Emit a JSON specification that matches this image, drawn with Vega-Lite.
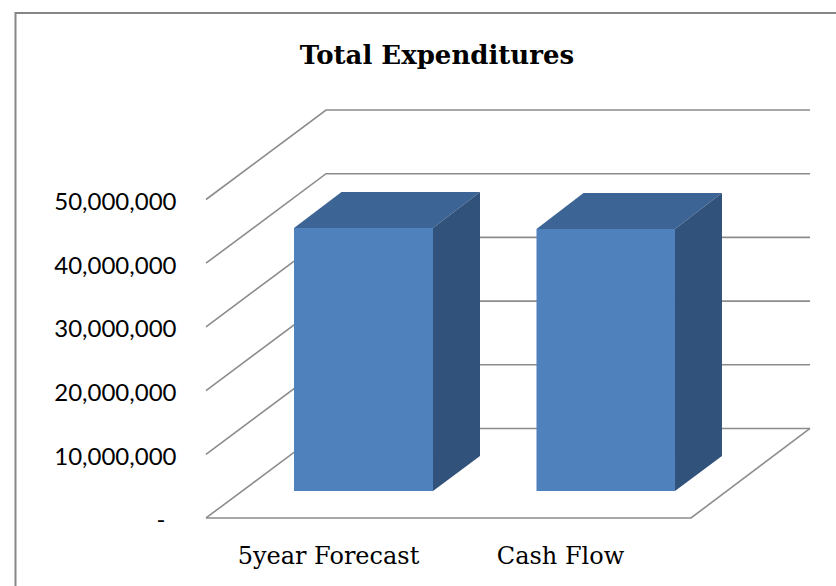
{
"$schema":"https://vega.github.io/schema/vega-lite/v6.json",
"width":836,"height":586,"autosize":"none","padding":0,"background":"white",
"title":{"text":"Total Expenditures","font":"DejaVu Serif","fontSize":26,"fontWeight":"bold","color":"#000000","anchor":"middle","dx":19,"offset":-69},
"config":{"view":{"stroke":null}},
"encoding":{
 "x":{"field":"x","type":"quantitative","scale":{"domain":[-0.8495,2.598],"nice":false,"zero":false},
  "axis":{"orient":"bottom","title":null,"grid":false,"domain":false,"ticks":false,"values":[0.503,1.46],"offset":-30,"labelPadding":0,"labelBaseline":"middle","labelLimit":400,"labelFont":"DejaVu Serif","labelFontSize":24,"labelColor":"#000000","labelExpr":"datum.value<1?'5year Forecast':'Cash Flow'"}},
 "y":{"field":"y","type":"quantitative","scale":{"domain":[-10680000,81320000],"nice":false,"zero":false},
  "axis":{"orient":"left","title":null,"grid":false,"domain":false,"ticks":false,"values":[0,10000000,20000000,30000000,40000000,50000000],"offset":-176,"labelPadding":{"condition":{"test":"datum.value==0","value":11},"value":0},"labelOffset":3,"labelFont":"Lato","labelFontSize":24,"labelColor":"#000000","labelExpr":"datum.value==0?'-':format(datum.value,',')"}}
},
"layer":[
 {"data":{"values":[
  {"series":"frame","x":-0.7856,"y":-10680000},{"series":"frame","x":-0.7856,"y":79280000},{"series":"frame","x":2.598,"y":79280000}]},
  "mark":{"type":"line","stroke":"#868686","strokeWidth":2,"clip":false},
  "encoding":{"detail":{"field":"series"}}},
 {"data":{"values":[
  {"series":"floor","x":0,"y":0},{"series":"floor","x":2,"y":0},{"series":"floor","x":2.491,"y":14050000},
  {"series":"g0","x":0,"y":0},{"series":"g0","x":0.495,"y":14050000},{"series":"g0","x":2.491,"y":14050000},
  {"series":"g10","x":0,"y":10000000},{"series":"g10","x":0.495,"y":24050000},{"series":"g10","x":2.491,"y":24050000},
  {"series":"g20","x":0,"y":20000000},{"series":"g20","x":0.495,"y":34050000},{"series":"g20","x":2.491,"y":34050000},
  {"series":"g30","x":0,"y":30000000},{"series":"g30","x":0.495,"y":44050000},{"series":"g30","x":2.491,"y":44050000},
  {"series":"g40","x":0,"y":40000000},{"series":"g40","x":0.495,"y":54050000},{"series":"g40","x":2.491,"y":54050000},
  {"series":"g50","x":0,"y":50000000},{"series":"g50","x":0.495,"y":64050000},{"series":"g50","x":2.491,"y":64050000}]},
  "mark":{"type":"line","stroke":"#8c8c8c","strokeWidth":1.6},
  "encoding":{"detail":{"field":"series"}}},
 {"data":{"values":[
  {"bar":"5year Forecast","face":"front","x":0.3629,"y":45530000,"y2":4240000},
  {"bar":"5year Forecast","face":"front","x":0.9361,"y":45530000,"y2":4240000},
  {"bar":"5year Forecast","face":"top","x":0.3629,"y":45530000,"y2":45530000},
  {"bar":"5year Forecast","face":"top","x":0.5588,"y":51180000,"y2":45530000},
  {"bar":"5year Forecast","face":"top","x":0.9361,"y":51180000,"y2":45530000},
  {"bar":"5year Forecast","face":"top","x":1.1299,"y":51180000,"y2":51180000},
  {"bar":"5year Forecast","face":"side","x":0.9361,"y":45530000,"y2":4240000},
  {"bar":"5year Forecast","face":"side","x":1.1299,"y":51180000,"y2":9730000},
  {"bar":"Cash Flow","face":"front","x":1.3629,"y":45370000,"y2":4240000},
  {"bar":"Cash Flow","face":"front","x":1.934,"y":45370000,"y2":4240000},
  {"bar":"Cash Flow","face":"top","x":1.3629,"y":45370000,"y2":45370000},
  {"bar":"Cash Flow","face":"top","x":1.5567,"y":51020000,"y2":45370000},
  {"bar":"Cash Flow","face":"top","x":1.934,"y":51020000,"y2":45370000},
  {"bar":"Cash Flow","face":"top","x":2.1278,"y":51020000,"y2":51020000},
  {"bar":"Cash Flow","face":"side","x":1.934,"y":45370000,"y2":4240000},
  {"bar":"Cash Flow","face":"side","x":2.1278,"y":51020000,"y2":9730000}]},
  "mark":{"type":"area","opacity":1,"line":false},
  "encoding":{
   "y2":{"field":"y2"},
   "detail":{"field":"bar"},
   "color":{"field":"face","type":"nominal","legend":null,"scale":{"domain":["front","top","side"],"range":["#4F81BD","#3C6494","#31527A"]}}}}
]}
